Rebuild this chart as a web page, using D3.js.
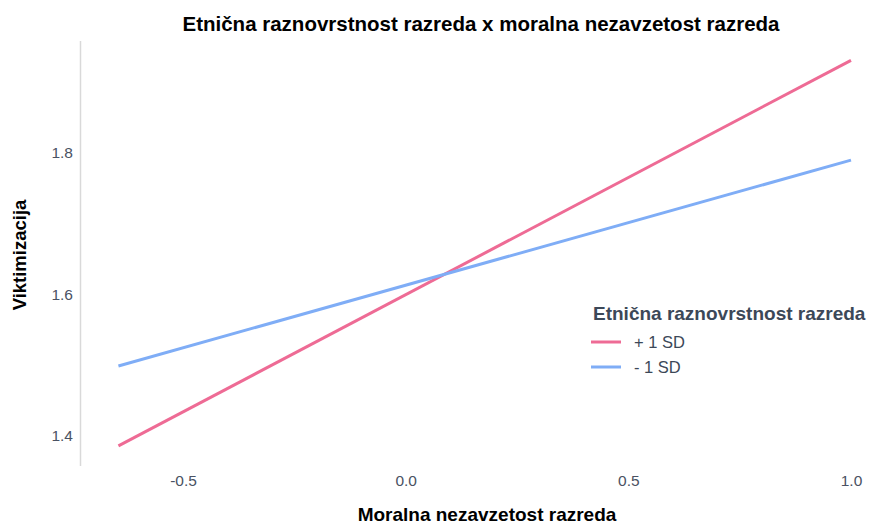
<!DOCTYPE html>
<html>
<head>
<meta charset="utf-8">
<script src="https://cdn.jsdelivr.net/npm/d3@7"></script>
<style>
  body { margin: 0; background: #fff; }
  text { font-family: "Liberation Sans", Arial, sans-serif; }
</style>
</head>
<body>
<script>
// chart size
const svgWidth = 880,
      svgHeight = 527;

// x values where the lines are evaluated
const xValues = [-0.645, 1.0];

// predicted values for each group
const plusSD = [1.386, 1.931];
const minusSD = [1.499, 1.790];

// series names and colours
const seriesNames = ["+ 1 SD", "- 1 SD"];
const seriesColors = ["#ee6b95", "#7fadf6"];

// tick values
const xTicks = [-0.5, 0.0, 0.5, 1.0];
const yTicks = [1.4, 1.6, 1.8];

const svg = d3.select("body")
  .append("svg")
  .attr("width", svgWidth)
  .attr("height", svgHeight);

// scales, fitted to the reference picture
const xScale = d3.scaleLinear()
  .domain([-0.5, 1.0])
  .range([183, 851]);

const yScale = d3.scaleLinear()
  .domain([1.4, 1.8])
  .range([436, 153]);

// plain hyphen for negatives, like the reference
const fmt = (d) => d3.format(".1f")(d).replace("−", "-");

// title
svg.append("text")
  .text("Etnična raznovrstnost razreda x moralna nezavzetost razreda")
  .attr("x", 481)
  .attr("y", 31)
  .attr("text-anchor", "middle")
  .attr("font-size", 20.5)
  .attr("font-weight", "bold")
  .attr("fill", "#000");

// y axis line
svg.append("line")
  .attr("x1", 80.5).attr("x2", 80.5)
  .attr("y1", 41).attr("y2", 466)
  .attr("stroke", "#d9d9d9")
  .attr("stroke-width", 1.5);

// y axis
const yAxis = svg.append("g")
  .attr("transform", "translate(75,0)")
  .call(d3.axisLeft(yScale).tickValues(yTicks).tickFormat(fmt).tickSize(0));
yAxis.select(".domain").remove();
yAxis.selectAll("text")
  .attr("font-size", 15.5)
  .attr("fill", "#4a5263")
  .attr("x", -2)
  .attr("font-family", "\"Liberation Sans\", Arial, sans-serif");

// x axis
const xAxis = svg.append("g")
  .attr("transform", "translate(0,472)")
  .call(d3.axisBottom(xScale).tickValues(xTicks).tickFormat(fmt).tickSize(0));
xAxis.select(".domain").remove();
xAxis.selectAll("text")
  .attr("font-size", 15.5)
  .attr("fill", "#4a5263")
  .attr("font-family", "\"Liberation Sans\", Arial, sans-serif");

// axis labels
svg.append("text")
  .text("Moralna nezavzetost razreda")
  .attr("x", 487)
  .attr("y", 521)
  .attr("text-anchor", "middle")
  .attr("font-size", 19)
  .attr("font-weight", "bold");

svg.append("text")
  .text("Viktimizacija")
  .attr("transform", "translate(26,255) rotate(-90)")
  .attr("text-anchor", "middle")
  .attr("font-size", 18.5)
  .attr("font-weight", "bold");

// lines
const line = d3.line()
  .x((d, i) => xScale(xValues[i]))
  .y((d) => yScale(d));

svg.selectAll(".series")
  .data([plusSD, minusSD])
  .enter()
  .append("path")
  .attr("class", "series")
  .attr("d", line)
  .attr("fill", "none")
  .attr("stroke", (d, i) => seriesColors[i])
  .attr("stroke-width", 3);

// legend
const legend = svg.append("g")
  .attr("transform", "translate(591,0)");

legend.append("text")
  .text("Etnična raznovrstnost razreda")
  .attr("x", 2)
  .attr("y", 320)
  .attr("font-size", 19)
  .attr("font-weight", "bold")
  .attr("fill", "#3c4858");

seriesNames.forEach((name, i) => {
  const yPos = 342 + i * 25;
  legend.append("line")
    .attr("x1", 0).attr("x2", 30)
    .attr("y1", yPos).attr("y2", yPos)
    .attr("stroke", seriesColors[i])
    .attr("stroke-width", 3);
  legend.append("text")
    .text(name)
    .attr("x", 43)
    .attr("y", yPos + 6)
    .attr("font-size", 16.5)
    .attr("fill", "#3c4858");
});
</script>
</body>
</html>
